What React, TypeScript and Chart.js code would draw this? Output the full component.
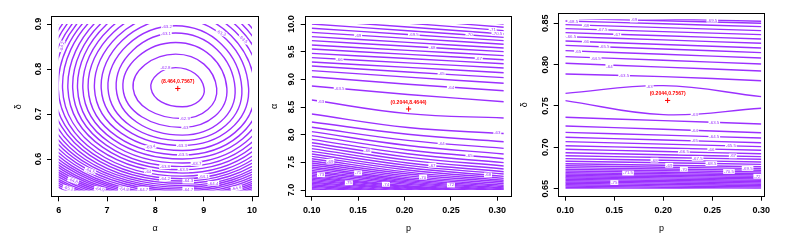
import React, { useEffect, useRef } from 'react';
import { Chart, registerables } from 'chart.js';

Chart.register(...registerables);

const W = 789;
const H = 241;
const FONT_FAMILY = '"Liberation Sans", Arial, Helvetica, sans-serif';
const CONTOUR_COLOR = '#9B30FF';
const MLE_COLOR = '#FF0000';
const LINE_WIDTH = 1.4;

/* ---------------- Panel 1 : delta against alpha ---------------- */
const P1_X_TICKS = [6, 7, 8, 9, 10];
const P1_X_TICK_LABELS = ['6', '7', '8', '9', '10'];
const P1_Y_TICKS = [0.6, 0.7, 0.8, 0.9];
const P1_Y_TICK_LABELS = ['0.6', '0.7', '0.8', '0.9'];
const P1_GRID_ALPHA = [6, 10];
const P1_GRID_DELTA = [0.53, 0.9];
const P1_MLE = [8.464, 0.7567];
const P1_MLE_TEXT = '(8.464,0.7567)';
const P1_LEVELS = [
  -62.8, -62.9, -63, -63.1, -63.2, -63.3, -63.4, -63.5, -63.6, -63.7, -63.8, -63.9,
  -64, -64.1, -64.2, -64.3, -64.4, -64.5, -64.6, -64.7, -64.8, -64.9, -65, -65.1,
  -65.2, -65.3, -65.4, -65.5, -65.6, -65.7, -65.8, -65.9, -66, -66.1, -66.2, -66.3,
];
// alpha of the leftmost / rightmost point of each closed contour
const P1_RING_LEFT = [
  7.91, 7.54, 7.33, 7.19, 7.02, 6.88, 6.74, 6.61, 6.5, 6.39, 6.29, 6.19,
  6.08, 5.99, 5.9, 5.82, 5.73, 5.65, 5.57, 5.5, 5.42, 5.35, 5.28, 5.21,
  5.14, 5.07, 5.01, 4.94, 4.88, 4.82, 4.76, 4.69, 4.64, 4.58, 4.52, 4.46,
];
const P1_RING_RIGHT = [
  9.01, 9.27, 9.48, 9.65, 9.79, 9.93, 10.06, 10.18, 10.29, 10.39, 10.49, 10.59,
  10.67, 10.76, 10.84, 10.92, 11.0, 11.08, 11.15, 11.22, 11.29, 11.36, 11.42, 11.49,
  11.55, 11.62, 11.68, 11.74, 11.8, 11.85, 11.91, 11.97, 12.02, 12.07, 12.13, 12.18,
];
// delta of the top / bottom point of each closed contour
const P1_RING_TOP = [
  0.803, 0.833, 0.859, 0.88, 0.896, 0.912, 0.925, 0.937, 0.949, 0.96, 0.97, 0.98,
  0.989, 0.998, 1.007, 1.015, 1.023, 1.031, 1.039, 1.046, 1.054, 1.061, 1.068, 1.075,
  1.081, 1.088, 1.094, 1.101, 1.107, 1.113, 1.119, 1.125, 1.131, 1.136, 1.142, 1.147,
];
const P1_RING_BOTTOM = [
  0.716, 0.69, 0.67, 0.653, 0.641, 0.63, 0.619, 0.609, 0.6, 0.591, 0.583, 0.576,
  0.569, 0.562, 0.556, 0.551, 0.546, 0.541, 0.537, 0.533, 0.529, 0.525, 0.521, 0.518,
  0.515, 0.512, 0.509, 0.506, 0.503, 0.5, 0.497, 0.494, 0.491, 0.488, 0.485, 0.482,
];
const P1_RING_TOP_ALPHA = 8.42;
const P1_RING_BOTTOM_ALPHA = 8.56;
const P1_RING_SIDE_DELTA = 0.757;
const P1_LABEL_TEXT = [
  '-62.8', '-62.9', '-63', '-63.1', '-63.2', '-63.3', '-63.5', '-63.7', '-63.9', '-64.1',
  '-64.3', '-64.4', '-64.7', '-63.4', '-63.8', '-64', '-64.2', '-63.3', '-63.5', '-64.2',
  '-64.5', '-64.8', '-65.2', '-64.9', '-64.8', '-64.7', '-64.9',
];
const P1_LABEL_ALPHA = [
  8.21, 8.61, 8.62, 8.22, 8.24, 8.55, 8.57, 8.85, 8.58, 9.0,
  8.68, 9.2, 8.68, 7.9, 8.2, 7.85, 8.2, 9.36, 9.82, 6.07,
  6.65, 6.3, 6.2, 6.85, 7.35, 7.75, 9.68,
];
const P1_LABEL_DELTA = [
  0.803, 0.69, 0.67, 0.879, 0.895, 0.63, 0.609, 0.59, 0.576, 0.562,
  0.551, 0.546, 0.533, 0.627, 0.583, 0.572, 0.556, 0.88, 0.866, 0.85,
  0.574, 0.552, 0.535, 0.533, 0.533, 0.533, 0.535,
];
const P1_LABEL_ROT = [
  0, 0, 0, 0, 0, 0, 0, 0, 0, 0,
  0, 0, 0, -10, 0, 0, 0, 20, 40, -80,
  20, 20, 15, 10, 5, 0, -10,
];

/* ---------------- Panel 2 : alpha against p ---------------- */
const P2_X_TICKS = [0.1, 0.15, 0.2, 0.25, 0.3];
const P2_X_TICK_LABELS = ['0.10', '0.15', '0.20', '0.25', '0.30'];
const P2_Y_TICKS = [7, 7.5, 8, 8.5, 9, 9.5, 10];
const P2_Y_TICK_LABELS = ['7.0', '7.5', '8.0', '8.5', '9.0', '9.5', '10.0'];
const P2_GRID_P = [0.1, 0.307];
const P2_GRID_ALPHA = [7, 10];
const P2_MLE = [0.2044, 8.4644];
const P2_MLE_TEXT = '(0.2044,8.4644)';
const P2_LINE_P = [0.1, 0.2035, 0.307];
const P2_LEVELS = [
  -72, -71.5, -71, -70.5, -70, -69.5, -69, -68.5, -68, -67.5, -67, -66.5, -66, -65.5, -65, -64.5, -64, -63.5,
  -63, -63,
  -63.5, -64, -64.5, -65, -65.5, -66, -66.5, -67, -67.5, -68, -68.5, -69, -69.5, -70, -70.5, -71,
  -71.5, -72, -72.5, -73, -73.5, -74, -74.5, -75, -75.5, -76, -76.5, -77, -77.5, -78, -78.5, -79,
];
const P2_ALPHA_LEFT = [
  10.301, 10.223, 10.151, 10.072, 10.0, 9.922, 9.849, 9.771, 9.699, 9.62, 9.548, 9.47, 9.392, 9.313, 9.241, 9.157, 9.048, 8.88,
  8.627, 8.373,
  8.229, 8.133, 8.054, 7.982, 7.916, 7.855, 7.801, 7.747, 7.699, 7.651, 7.608, 7.566, 7.524, 7.488, 7.452, 7.416,
  7.386, 7.355, 7.325, 7.295, 7.265, 7.241, 7.217, 7.193, 7.169, 7.145, 7.12, 7.096, 7.072, 7.048, 7.024, 7.0,
];
const P2_ALPHA_MID = [
  10.15, 10.081, 10.015, 9.945, 9.879, 9.81, 9.741, 9.668, 9.599, 9.524, 9.451, 9.376, 9.298, 9.216, 9.133, 9.04, 8.912, 8.727,
  8.38, 8.13,
  8.008, 7.897, 7.804, 7.724, 7.654, 7.594, 7.54, 7.489, 7.445, 7.401, 7.362, 7.324, 7.289, 7.256, 7.224, 7.195,
  7.169, 7.146, 7.124, 7.101, 7.078, 7.062, 7.045, 7.029, 7.012, 6.996, 6.979, 6.962, 6.945, 6.928, 6.912, 6.895,
];
const P2_ALPHA_RIGHT = [
  10.0, 9.94, 9.88, 9.819, 9.759, 9.699, 9.633, 9.566, 9.5, 9.428, 9.355, 9.283, 9.205, 9.12, 9.03, 8.928, 8.795, 8.596,
  8.3, 8.02,
  7.873, 7.753, 7.651, 7.566, 7.494, 7.434, 7.38, 7.331, 7.289, 7.247, 7.211, 7.175, 7.145, 7.114, 7.084, 7.06,
  7.036, 7.018, 7.0, 6.982, 6.964, 6.952, 6.94, 6.928, 6.916, 6.904, 6.892, 6.88, 6.867, 6.855, 6.843, 6.831,
];
const P2_LABEL_TEXT = [
  '-71', '-70.5', '-70', '-69.5', '-69', '-68', '-67', '-66', '-65', '-64', '-63.5', '-63', '-63',
  '-64', '-65', '-66', '-67', '-68', '-69', '-70', '-71', '-72', '-73', '-74', '-75',
];
const P2_LABEL_P = [
  0.295, 0.3, 0.27, 0.21, 0.15, 0.23, 0.28, 0.13, 0.24, 0.25, 0.13, 0.11, 0.3,
  0.24, 0.27, 0.16, 0.23, 0.29, 0.12, 0.22, 0.15, 0.25, 0.11, 0.18, 0.14,
];
const P2_LABEL_ALPHA = [
  9.896, 9.827, 9.8, 9.803, 9.797, 9.574, 9.38, 9.365, 9.097, 8.859, 8.836, 8.603, 8.03,
  7.846, 7.622, 7.704, 7.449, 7.272, 7.519, 7.233, 7.309, 7.089, 7.276, 7.103, 7.13,
];

/* ---------------- Panel 3 : delta against p ---------------- */
const P3_X_TICKS = [0.1, 0.15, 0.2, 0.25, 0.3];
const P3_X_TICK_LABELS = ['0.10', '0.15', '0.20', '0.25', '0.30'];
const P3_Y_TICKS = [0.65, 0.7, 0.75, 0.8, 0.85];
const P3_Y_TICK_LABELS = ['0.65', '0.70', '0.75', '0.80', '0.85'];
const P3_GRID_P = [0.1, 0.3];
const P3_GRID_DELTA = [0.65, 0.855];
const P3_MLE = [0.2044, 0.7567];
const P3_MLE_TEXT = '(0.2044,0.7567)';
const P3_LINE_P = [0.1, 0.2, 0.3];
const P3_LEVELS = [
  -69.5, -69, -68.5, -68, -67.5, -67, -66.5, -66, -65.5, -65, -64.5, -64, -63.5,
  -63, -63,
  -63.5, -64, -64.5, -65, -65.5, -66, -66.5, -67, -67.5, -68, -68.5, -69, -69.5, -70, -70.5,
  -71, -71.5, -72, -72.5, -73, -73.5, -74, -74.5, -75, -75.5, -76, -76.5, -77, -77.5,
];
const P3_DELTA_LEFT = [
  0.8581, 0.856, 0.8528, 0.8484, 0.8435, 0.8387, 0.8339, 0.8286, 0.8233, 0.8169, 0.8097, 0.8016, 0.7887,
  0.7653, 0.7565,
  0.7363, 0.7258, 0.7181, 0.7121, 0.7069, 0.702, 0.6976, 0.6935, 0.6899, 0.6863, 0.6831, 0.6802, 0.6778, 0.6754, 0.6734,
  0.6714, 0.6694, 0.6677, 0.6661, 0.6645, 0.6629, 0.6613, 0.6597, 0.6581, 0.6565, 0.6548, 0.6532, 0.6516, 0.65,
];
const P3_DELTA_MID = [
  0.8552, 0.853, 0.8494, 0.8448, 0.8399, 0.8349, 0.8299, 0.8244, 0.8189, 0.8125, 0.8053, 0.797, 0.7855,
  0.7746, 0.7395,
  0.7323, 0.7218, 0.7147, 0.7089, 0.7039, 0.6992, 0.695, 0.6911, 0.6877, 0.6843, 0.6813, 0.6784, 0.676, 0.6738, 0.6718,
  0.6698, 0.668, 0.6663, 0.6647, 0.6631, 0.6615, 0.6599, 0.6583, 0.6567, 0.6551, 0.6534, 0.6518, 0.6502, 0.6486,
];
const P3_DELTA_RIGHT = [
  0.8524, 0.85, 0.846, 0.8411, 0.8363, 0.831, 0.8258, 0.8202, 0.8145, 0.8081, 0.8008, 0.7923, 0.7806,
  0.7613, 0.7472,
  0.7282, 0.7177, 0.7113, 0.7056, 0.7008, 0.6964, 0.6923, 0.6887, 0.6855, 0.6823, 0.6794, 0.6766, 0.6742, 0.6722, 0.6702,
  0.6681, 0.6665, 0.6649, 0.6633, 0.6617, 0.6601, 0.6585, 0.6569, 0.6552, 0.6536, 0.652, 0.6504, 0.6488, 0.6472,
];
const P3_LABEL_TEXT = [
  '-69', '-69.5', '-68.5', '-68', '-67.5', '-67', '-66.5', '-66', '-65.5', '-65', '-64.5', '-64', '-63.5',
  '-63', '-63', '-63.5', '-64', '-64.5', '-65', '-65.5', '-66', '-66.5', '-67', '-67.5', '-68', '-68.5',
  '-69', '-69.5', '-70', '-70.5', '-71.5', '-72', '-75',
];
const P3_LABEL_P = [
  0.17, 0.25, 0.108, 0.121, 0.138, 0.153, 0.106, 0.121, 0.14, 0.113, 0.131, 0.145, 0.16,
  0.186, 0.232, 0.252, 0.232, 0.252, 0.232, 0.269, 0.249, 0.221, 0.271, 0.235, 0.191, 0.249,
  0.206, 0.286, 0.221, 0.267, 0.164, 0.296, 0.15,
];
const P3_LABEL_DELTA = [
  0.854, 0.8538, 0.8525, 0.8476, 0.8419, 0.8366, 0.8337, 0.8278, 0.8215, 0.8161, 0.8075, 0.7979, 0.7865,
  0.774, 0.7398, 0.7302, 0.7205, 0.713, 0.7078, 0.702, 0.6978, 0.6946, 0.6896, 0.6866, 0.6845, 0.6803,
  0.6783, 0.6745, 0.6735, 0.6708, 0.6689, 0.665, 0.6574,
];

/* ---------------- helpers ---------------- */
type Label = { text: string; x: number; y: number; rot: number };
type Panel = {
  offset: number;
  frame: { left: number; top: number; right: number; bottom: number };
  xMin: number; xMax: number; yMin: number; yMax: number;
  xTicks: number[]; xTickLabels: string[]; yTicks: number[]; yTickLabels: string[];
  xTitle: string; yTitle: string;
  xTickPad: number; yTickPad: number; xTitlePad: number; yTitlePad: number;
  clipX: number[]; clipY: number[];
  datasets: any[];
  labels: Label[];
  mle: number[]; mleText: string;
};

const HIDDEN = 'rgba(0,0,0,0)';

function markerDataset(mle: number[]) {
  return {
    label: 'MLE',
    data: [{ x: mle[0], y: mle[1] }],
    showLine: false,
    pointStyle: 'cross',
    pointRadius: 2.6,
    pointBorderColor: MLE_COLOR,
    pointBorderWidth: 1,
    borderColor: MLE_COLOR,
  };
}

function ringDatasets() {
  return P1_LEVELS.map((lv, k) => {
    const L = { x: P1_RING_LEFT[k], y: P1_RING_SIDE_DELTA };
    const T = { x: P1_RING_TOP_ALPHA, y: P1_RING_TOP[k] };
    const R = { x: P1_RING_RIGHT[k], y: P1_RING_SIDE_DELTA };
    const B = { x: P1_RING_BOTTOM_ALPHA, y: P1_RING_BOTTOM[k] };
    return {
      label: String(lv),
      data: [L, T, R, B, L, T, R].map((pt) => ({ x: pt.x, y: pt.y })),
      borderColor: CONTOUR_COLOR,
      borderWidth: LINE_WIDTH,
      tension: 0.55,
      pointRadius: 0,
      segment: {
        borderColor: (c: any) => (c.p0DataIndex === 0 || c.p0DataIndex === 5 ? HIDDEN : undefined),
      },
    };
  });
}

function lineDatasets(levels: number[], xs: number[], a: number[], b: number[], c: number[]) {
  return levels.map((lv, i) => ({
    label: String(lv),
    data: [
      { x: xs[0], y: a[i] },
      { x: xs[1], y: b[i] },
      { x: xs[2], y: c[i] },
    ],
    borderColor: CONTOUR_COLOR,
    borderWidth: LINE_WIDTH,
    tension: 0.4,
    pointRadius: 0,
  }));
}

function zipLabels(t: string[], x: number[], y: number[], r?: number[]): Label[] {
  return t.map((text, i) => ({ text, x: x[i], y: y[i], rot: r ? r[i] : 0 }));
}

const PANELS: Panel[] = [
  {
    offset: 0,
    frame: { left: 51, top: 16, right: 259.3, bottom: 197.3 },
    xMin: 5.841, xMax: 10.151, yMin: 0.5149, yMax: 0.9178,
    xTicks: P1_X_TICKS, xTickLabels: P1_X_TICK_LABELS, yTicks: P1_Y_TICKS, yTickLabels: P1_Y_TICK_LABELS,
    xTitle: 'α', yTitle: 'δ',
    xTickPad: 4.3, yTickPad: 2.4, xTitlePad: 6.6, yTitlePad: 12.9,
    clipX: P1_GRID_ALPHA, clipY: P1_GRID_DELTA,
    datasets: [markerDataset(P1_MLE), ...ringDatasets()],
    labels: zipLabels(P1_LABEL_TEXT, P1_LABEL_ALPHA, P1_LABEL_DELTA, P1_LABEL_ROT),
    mle: P1_MLE, mleText: P1_MLE_TEXT,
  },
  {
    offset: 263,
    frame: { left: 304.7, top: 16, right: 512.3, bottom: 196.7 },
    xMin: 0.09246, xMax: 0.31616, yMin: 6.879, yMax: 10.1446,
    xTicks: P2_X_TICKS, xTickLabels: P2_X_TICK_LABELS, yTicks: P2_Y_TICKS, yTickLabels: P2_Y_TICK_LABELS,
    xTitle: 'p', yTitle: 'α',
    xTickPad: 4.9, yTickPad: 0.6, xTitlePad: 6.6, yTitlePad: 6.3,
    clipX: P2_GRID_P, clipY: P2_GRID_ALPHA,
    datasets: [markerDataset(P2_MLE), ...lineDatasets(P2_LEVELS, P2_LINE_P, P2_ALPHA_LEFT, P2_ALPHA_MID, P2_ALPHA_RIGHT)],
    labels: zipLabels(P2_LABEL_TEXT, P2_LABEL_P, P2_LABEL_ALPHA),
    mle: P2_MLE, mleText: P2_MLE_TEXT,
  },
  {
    offset: 512,
    frame: { left: 557.7, top: 12.7, right: 765.3, bottom: 196.7 },
    xMin: 0.09224, xMax: 0.30408, yMin: 0.6403, yMax: 0.8628,
    xTicks: P3_X_TICKS, xTickLabels: P3_X_TICK_LABELS, yTicks: P3_Y_TICKS, yTickLabels: P3_Y_TICK_LABELS,
    xTitle: 'p', yTitle: 'δ',
    xTickPad: 4.6, yTickPad: -1, xTitlePad: 6.6, yTitlePad: 7.6,
    clipX: P3_GRID_P, clipY: P3_GRID_DELTA,
    datasets: [markerDataset(P3_MLE), ...lineDatasets(P3_LEVELS, P3_LINE_P, P3_DELTA_LEFT, P3_DELTA_MID, P3_DELTA_RIGHT)],
    labels: zipLabels(P3_LABEL_TEXT, P3_LABEL_P, P3_LABEL_DELTA),
    mle: P3_MLE, mleText: P3_MLE_TEXT,
  },
];

function makeDecor(p: Panel) {
  return {
    id: 'decor',
    beforeDatasetsDraw(chart: any) {
      const { ctx, scales } = chart;
      const x0 = scales.x.getPixelForValue(p.clipX[0]);
      const x1 = scales.x.getPixelForValue(p.clipX[1]);
      const y0 = scales.y.getPixelForValue(p.clipY[1]);
      const y1 = scales.y.getPixelForValue(p.clipY[0]);
      ctx.save();
      ctx.beginPath();
      ctx.rect(x0, y0, x1 - x0, y1 - y0);
      ctx.clip();
    },
    afterDatasetsDraw(chart: any) {
      const { ctx, scales } = chart;
      ctx.restore();
      ctx.save();
      ctx.font = `4.4px ${FONT_FAMILY}`;
      ctx.textAlign = 'center';
      ctx.textBaseline = 'middle';
      p.labels.forEach((lb) => {
        const px = scales.x.getPixelForValue(lb.x);
        const py = scales.y.getPixelForValue(lb.y);
        const w = ctx.measureText(lb.text).width;
        ctx.save();
        ctx.translate(px, py);
        ctx.rotate((lb.rot * Math.PI) / 180);
        ctx.fillStyle = '#ffffff';
        ctx.fillRect(-w / 2 - 0.8, -2.4, w + 1.6, 4.8);
        ctx.fillStyle = CONTOUR_COLOR;
        ctx.fillText(lb.text, 0, 0.2);
        ctx.restore();
      });
      ctx.restore();
      ctx.save();
      ctx.font = `bold 5.1px ${FONT_FAMILY}`;
      ctx.textAlign = 'center';
      ctx.textBaseline = 'middle';
      ctx.fillStyle = MLE_COLOR;
      const mx = scales.x.getPixelForValue(p.mle[0]);
      const my = scales.y.getPixelForValue(p.mle[1]);
      ctx.fillText(p.mleText, mx, my - 6.8);
      ctx.restore();
    },
    afterDraw(chart: any) {
      const { ctx, chartArea } = chart;
      ctx.save();
      ctx.strokeStyle = '#000';
      ctx.lineWidth = 1;
      const l = Math.round(chartArea.left) + 0.5;
      const t = Math.round(chartArea.top) + 0.5;
      const r = Math.round(chartArea.right) - 0.5;
      const b = Math.round(chartArea.bottom) - 0.5;
      ctx.strokeRect(l, t, r - l, b - t);
      ctx.restore();
    },
  };
}

function buildConfig(p: Panel): any {
  const tickFont = { family: FONT_FAMILY, size: 9, weight: 'bold' };
  const titleFont = { family: FONT_FAMILY, size: 9 };
  const grid = {
    drawOnChartArea: false,
    drawTicks: true,
    tickLength: 4,
    tickWidth: 1,
    tickColor: '#000',
    color: '#000',
    lineWidth: 1,
  };
  return {
    type: 'line',
    data: { datasets: p.datasets },
    options: {
      responsive: false,
      maintainAspectRatio: false,
      animation: false,
      devicePixelRatio: 1,
      events: [],
      layout: { padding: { left: p.offset, top: p.frame.top, right: W - p.frame.right, bottom: 0 } },
      plugins: { legend: { display: false }, tooltip: { enabled: false } },
      elements: {
        point: { radius: 0, hoverRadius: 0 },
        line: { capBezierPoints: false, fill: false },
      },
      scales: {
        x: {
          type: 'linear',
          position: 'bottom',
          min: p.xMin,
          max: p.xMax,
          afterBuildTicks: (s: any) => {
            s.ticks = p.xTicks.map((v) => ({ value: v }));
          },
          afterFit: (s: any) => {
            s.height = H - p.frame.bottom;
          },
          ticks: {
            autoSkip: false,
            minRotation: 0,
            maxRotation: 0,
            padding: p.xTickPad,
            color: '#000',
            font: tickFont,
            callback: (_v: any, i: number) => p.xTickLabels[i],
          },
          grid,
          border: { display: false },
          title: { display: true, text: p.xTitle, color: '#000', font: titleFont, padding: { top: 0, bottom: p.xTitlePad } },
        },
        y: {
          type: 'linear',
          position: 'left',
          min: p.yMin,
          max: p.yMax,
          afterBuildTicks: (s: any) => {
            s.ticks = p.yTicks.map((v) => ({ value: v }));
          },
          afterFit: (s: any) => {
            s.width = p.frame.left - p.offset;
          },
          ticks: {
            autoSkip: false,
            minRotation: 90,
            maxRotation: 90,
            crossAlign: 'center',
            padding: p.yTickPad,
            color: '#000',
            font: tickFont,
            callback: (_v: any, i: number) => p.yTickLabels[i],
          },
          grid,
          border: { display: false },
          title: { display: true, text: p.yTitle, color: '#000', font: titleFont, padding: { top: p.yTitlePad, bottom: 0 } },
        },
      },
    },
    plugins: [makeDecor(p)],
  };
}

export default function App() {
  const refs = useRef<(HTMLCanvasElement | null)[]>([]);

  useEffect(() => {
    document.body.style.margin = '0';
    const charts = PANELS.map((p, i) => new Chart(refs.current[i] as HTMLCanvasElement, buildConfig(p)));
    return () => {
      charts.forEach((c) => c.destroy());
    };
  }, []);

  return (
    <div style={{ position: 'fixed', left: 0, top: 0, width: W, height: H, background: '#ffffff', overflow: 'hidden' }}>
      {PANELS.map((_p, i) => (
        <canvas
          key={i}
          ref={(el) => {
            refs.current[i] = el;
          }}
          width={W}
          height={H}
          style={{ position: 'absolute', left: 0, top: 0, width: W, height: H, display: 'block' }}
        />
      ))}
    </div>
  );
}
